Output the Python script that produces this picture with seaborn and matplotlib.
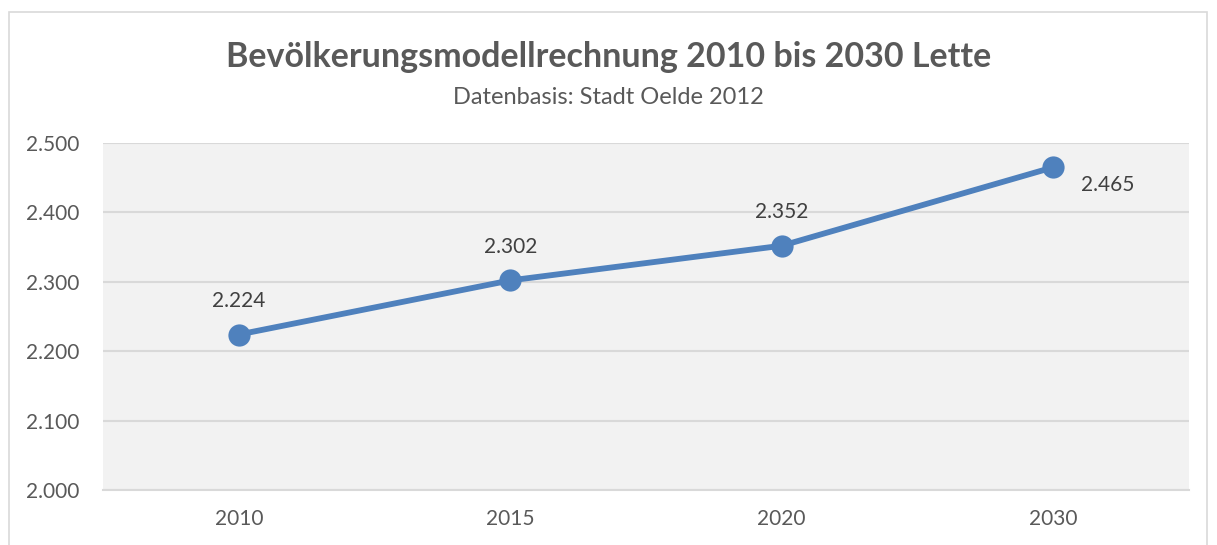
import matplotlib
matplotlib.use("Agg")
import matplotlib.pyplot as plt
from matplotlib.patches import Rectangle
from matplotlib.ticker import FuncFormatter
import seaborn as sns
import pandas as pd

years = ["2010", "2015", "2020", "2030"]
population = [2224, 2302, 2352, 2465]
y_ticks = [2000, 2100, 2200, 2300, 2400, 2500]
title = "Bevölkerungsmodellrechnung 2010 bis 2030 Lette"
subtitle = "Datenbasis: Stadt Oelde 2012"

sns.set_theme(style="white")
plt.rcParams["font.family"] = ["Lato", "DejaVu Sans"]

df = pd.DataFrame({"Jahr": years, "Einwohner": population})

fig = plt.figure(figsize=(12.17, 5.45), dpi=100)
ax = fig.add_axes([103 / 1217, 1 - 490 / 545, (1189 - 103) / 1217, (490 - 143) / 545])

line_color = "#4f81bd"
sns.lineplot(data=df, x="Jahr", y="Einwohner", ax=ax, color=line_color,
             linewidth=4.2, marker="o", markersize=16, markeredgewidth=0,
             zorder=3, sort=False)

ax.set_facecolor("#f2f2f2")
ax.set_xlim(-0.5, len(years) - 0.5)
ax.set_ylim(y_ticks[0], y_ticks[-1])
ax.set_yticks(y_ticks)
fmt = lambda v: f"{int(v):,}".replace(",", ".")
ax.yaxis.set_major_formatter(FuncFormatter(lambda v, p: fmt(v)))
ax.grid(axis="y", color="#d9d9d9", linewidth=1.5)
ax.grid(axis="x", visible=False)
ax.set_axisbelow(True)
for s in ["left", "right", "top"]:
    ax.spines[s].set_visible(False)
ax.spines["bottom"].set_color("#d9d9d9")
ax.spines["bottom"].set_linewidth(1.5)
ax.tick_params(axis="both", length=0, labelsize=15, labelcolor="#595959")
ax.tick_params(axis="y", pad=17)
ax.tick_params(axis="x", pad=14)
ax.set_xlabel("")
ax.set_ylabel("")

for i, v in enumerate(population):
    if i == len(population) - 1:
        ax.annotate(fmt(v), (i, v), xytext=(20, -13), textcoords="offset points",
                    ha="left", va="center", fontsize=15, color="#404040")
    else:
        ax.annotate(fmt(v), (i, v), xytext=(0, 24), textcoords="offset points",
                    ha="center", va="center", fontsize=15, color="#404040")

fig.text(0.5, 1 - 57 / 545, title, ha="center", va="center",
         fontsize=24.5, fontweight="bold", color="#595959")
fig.text(0.5, 1 - 97 / 545, subtitle, ha="center", va="center",
         fontsize=17, color="#595959")

fig.patches.append(Rectangle((9 / 1217, -0.05), (1207 - 9) / 1217, 1.05 - 12 / 545,
                             transform=fig.transFigure, fill=False,
                             edgecolor="#d9d9d9", linewidth=1.2))

fig.savefig("out.png", dpi=100)
